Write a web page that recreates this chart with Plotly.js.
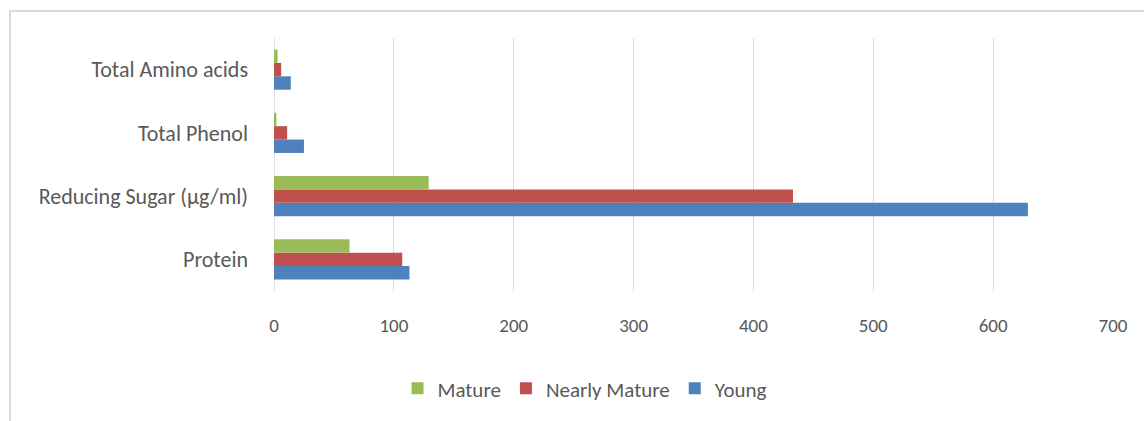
<!DOCTYPE html>
<html>
<head>
<meta charset="utf-8">
<script src="https://cdn.plot.ly/plotly-3.0.1.min.js"></script>
<style>html,body{margin:0;padding:0;background:#fff;}#chart{width:1144px;height:421px;}</style>
</head>
<body>
<div id="chart"></div>
<script>
const categories = ["Protein", "Reducing Sugar (µg/ml)", "Total Phenol", "Total Amino acids"];
const young = [113, 629, 25, 14];
const nearlyMature = [107, 433, 11, 6];
const mature = [63, 129, 2, 3];
const xTicks = [0, 100, 200, 300, 400, 500, 600, 700];

const font = "Carlito, Lato, 'Open Sans', sans-serif";
const traces = [
  {name: "Young", x: young, y: categories, type: "bar", orientation: "h", marker: {color: "#4F81BD"}},
  {name: "Nearly Mature", x: nearlyMature, y: categories, type: "bar", orientation: "h", marker: {color: "#C0504D"}},
  {name: "Mature", x: mature, y: categories, type: "bar", orientation: "h", marker: {color: "#9BBB59"}}
];
const layout = {
  width: 1144, height: 421,
  margin: {l: 274, r: 31, t: 38, b: 130},
  paper_bgcolor: "#fff", plot_bgcolor: "#fff",
  font: {family: font, color: "#595959", size: 19},
  barmode: "group", bargap: 0.365, bargroupgap: 0,
  showlegend: true,
  legend: {orientation: "h", traceorder: "reversed", x: 0.3707, xanchor: "center", y: -0.305, yanchor: "top",
           font: {size: 21, color: "#595959"}, itemwidth: 30},
  xaxis: {range: [0, 700], tickvals: xTicks, ticktext: xTicks.map(String), showgrid: true, gridcolor: "#D9D9D9",
          gridwidth: 1, zeroline: false, showline: false, ticks: "", ticklabelstandoff: 21,
          tickfont: {size: 19, color: "#595959"}, fixedrange: true},
  yaxis: {type: "category", categoryorder: "array", categoryarray: categories, showgrid: false, zeroline: false,
          showline: false, ticks: "", ticklabelstandoff: 25, tickfont: {size: 22, color: "#595959"}},
  shapes: [
    {type: "line", xref: "x", yref: "paper", x0: 0, x1: 0, y0: 0, y1: 1, line: {color: "#D9D9D9", width: 1.5}, layer: "below"},
    {type: "rect", xref: "paper", yref: "paper", x0: -0.3147, x1: 1.06, y0: -0.7, y1: 1.1067,
     line: {color: "#D9D9D9", width: 2}, fillcolor: "rgba(0,0,0,0)"}
  ]
};
Plotly.newPlot("chart", traces, layout, {displayModeBar: false, staticPlot: true});
</script>
</body>
</html>
